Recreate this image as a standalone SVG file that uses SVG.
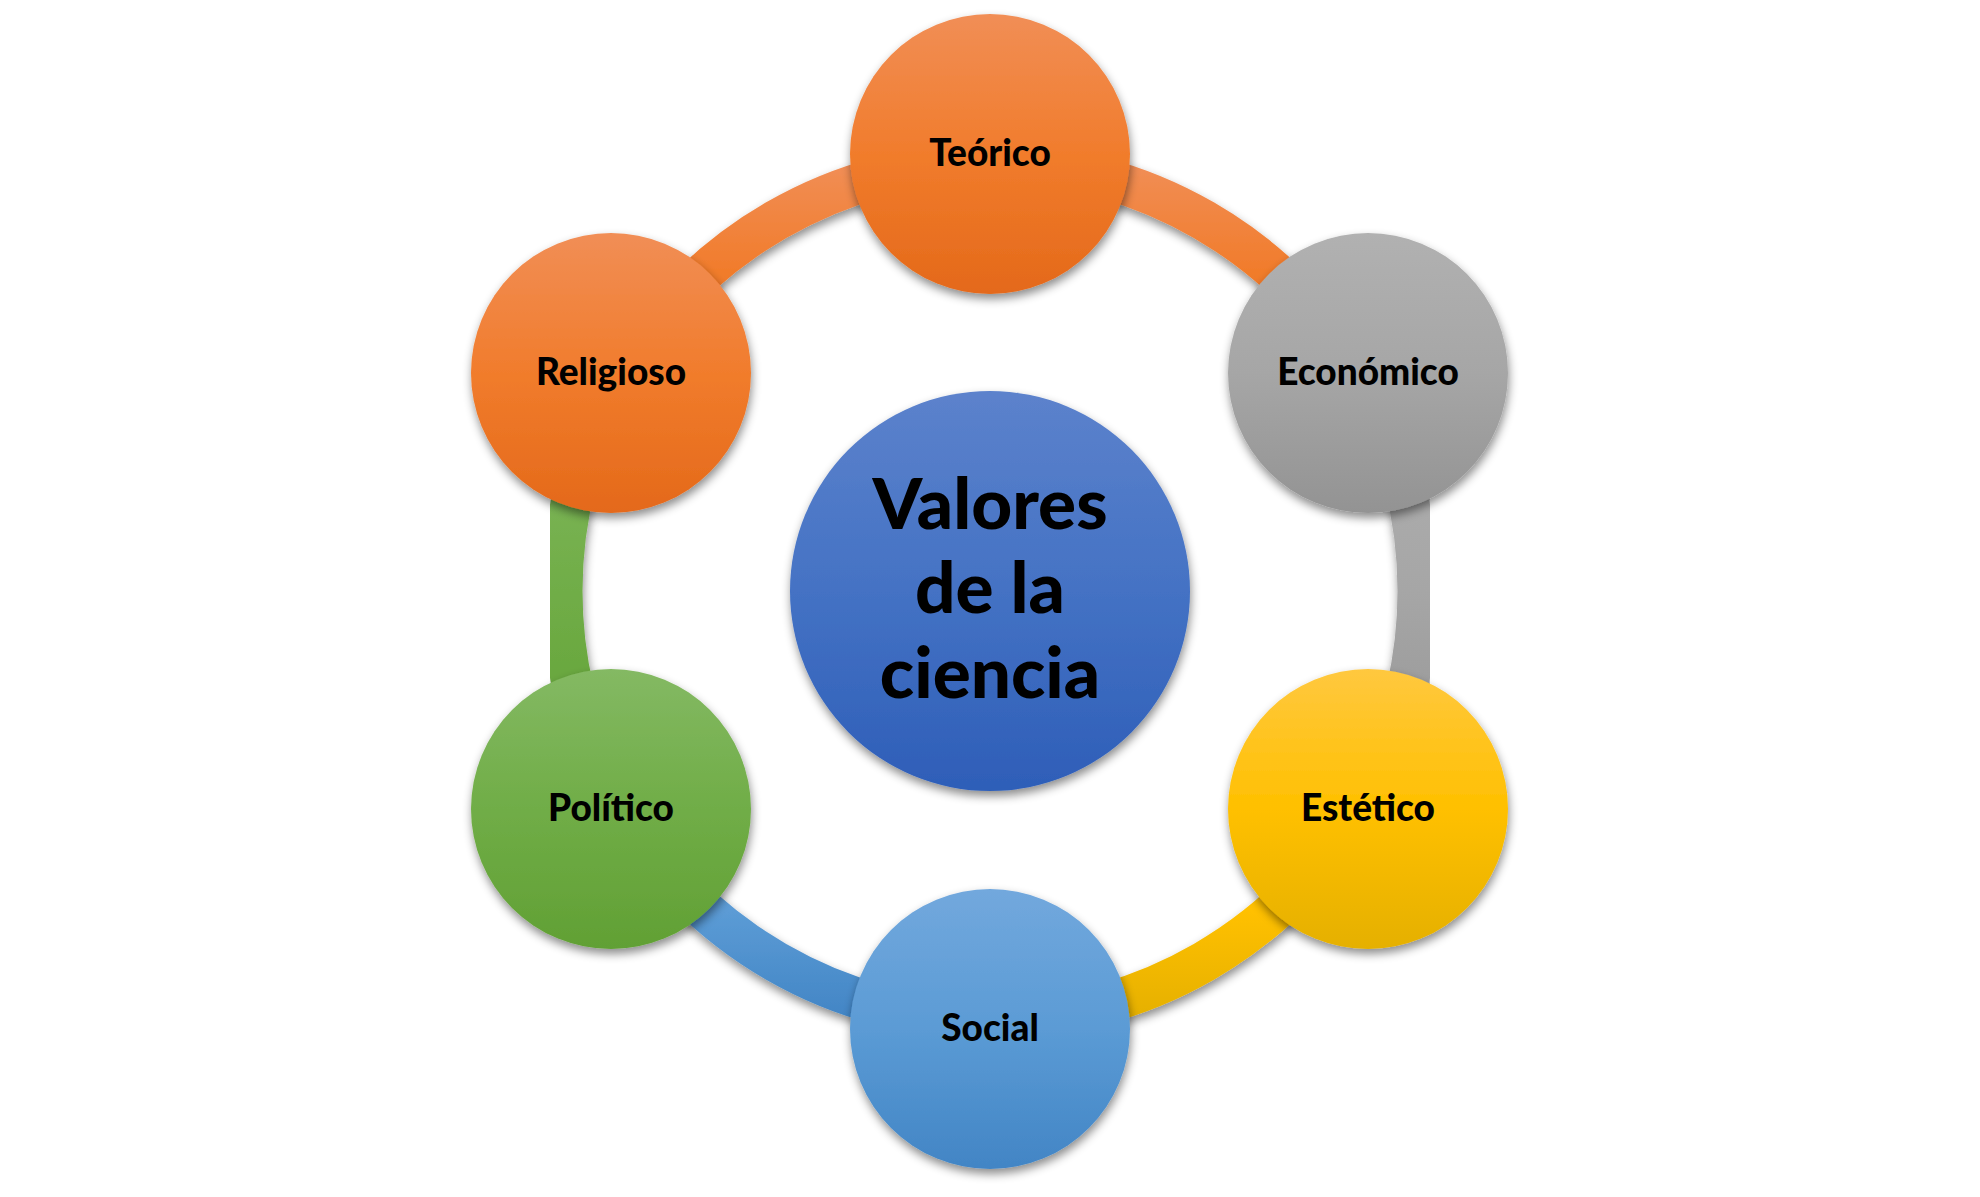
<svg xmlns="http://www.w3.org/2000/svg" width="1980" height="1197" viewBox="0 0 1980 1197">
  <defs>
    <filter id="sh" x="-20%" y="-20%" width="140%" height="150%">
      <feDropShadow dx="1" dy="5" stdDeviation="5" flood-color="#000" flood-opacity="0.45"/>
    </filter>
    <linearGradient id="gOrange" x1="0" y1="0" x2="0" y2="1">
      <stop offset="0" stop-color="#F18E56"/>
      <stop offset="0.5" stop-color="#F17C2C"/>
      <stop offset="1" stop-color="#E4691A"/>
    </linearGradient>
    <linearGradient id="gGray" x1="0" y1="0" x2="0" y2="1">
      <stop offset="0" stop-color="#B1B1B1"/>
      <stop offset="0.5" stop-color="#A6A6A6"/>
      <stop offset="1" stop-color="#939393"/>
    </linearGradient>
    <linearGradient id="gGold" x1="0" y1="0" x2="0" y2="1">
      <stop offset="0" stop-color="#FFC83F"/>
      <stop offset="0.5" stop-color="#FFC000"/>
      <stop offset="1" stop-color="#E5B000"/>
    </linearGradient>
    <linearGradient id="gBlue" x1="0" y1="0" x2="0" y2="1">
      <stop offset="0" stop-color="#72A8DD"/>
      <stop offset="0.5" stop-color="#5B9BD5"/>
      <stop offset="1" stop-color="#4285C5"/>
    </linearGradient>
    <linearGradient id="gGreen" x1="0" y1="0" x2="0" y2="1">
      <stop offset="0" stop-color="#84B963"/>
      <stop offset="0.5" stop-color="#70AD47"/>
      <stop offset="1" stop-color="#61A034"/>
    </linearGradient>
    <linearGradient id="gCenter" x1="0" y1="0" x2="0" y2="1">
      <stop offset="0" stop-color="#5C82CC"/>
      <stop offset="0.5" stop-color="#4472C4"/>
      <stop offset="1" stop-color="#2E5EB8"/>
    </linearGradient>
    <style>
      .arc { fill: none; stroke-width: 41; filter: url(#sh); }
      .node { filter: url(#sh); }
      .lbl { font-family: Lato, "Open Sans", "Liberation Sans", sans-serif; font-weight: 900; font-size: 37px; fill: #000; text-anchor: middle; }
      .big { font-family: Lato, "Open Sans", "Liberation Sans", sans-serif; font-weight: 900; font-size: 71px; fill: #000; text-anchor: middle; }
    </style>
  </defs>
  <rect width="1980" height="1197" fill="#FFFFFF"/>

  <g id="connectors">
    <path class="arc" stroke="url(#gOrange)" d="M990,163 A428,428 0 0 1 1360.66,377"/>
    <path class="arc" stroke="url(#gGray)" d="M1360.66,377 A428,428 0 0 1 1360.66,805"/>
    <path class="arc" stroke="url(#gGold)" d="M1360.66,805 A428,428 0 0 1 990,1019"/>
    <path class="arc" stroke="url(#gBlue)" d="M990,1019 A428,428 0 0 1 619.34,805"/>
    <path class="arc" stroke="url(#gGreen)" d="M619.34,805 A428,428 0 0 1 619.34,377"/>
    <path class="arc" stroke="url(#gOrange)" d="M619.34,377 A428,428 0 0 1 990,163"/>
  </g>

  <g id="center">
    <circle class="node" cx="990" cy="591" r="200" fill="url(#gCenter)"/>
    <text class="big" x="990" y="529">Valores</text>
    <text class="big" x="990" y="613">de la</text>
    <text class="big" x="990" y="698">ciencia</text>
  </g>

  <g id="teorico">
    <circle class="node" cx="990" cy="154" r="140" fill="url(#gOrange)"/>
    <text class="lbl" x="990" y="166">Teórico</text>
  </g>
  <g id="economico">
    <circle class="node" cx="1368" cy="373" r="140" fill="url(#gGray)"/>
    <text class="lbl" x="1368" y="385">Económico</text>
  </g>
  <g id="estetico">
    <circle class="node" cx="1368" cy="809" r="140" fill="url(#gGold)"/>
    <text class="lbl" x="1368" y="821">Estético</text>
  </g>
  <g id="social">
    <circle class="node" cx="990" cy="1029" r="140" fill="url(#gBlue)"/>
    <text class="lbl" x="990" y="1041">Social</text>
  </g>
  <g id="politico">
    <circle class="node" cx="611" cy="809" r="140" fill="url(#gGreen)"/>
    <text class="lbl" x="611" y="821">Político</text>
  </g>
  <g id="religioso">
    <circle class="node" cx="611" cy="373" r="140" fill="url(#gOrange)"/>
    <text class="lbl" x="611" y="385">Religioso</text>
  </g>
</svg>
